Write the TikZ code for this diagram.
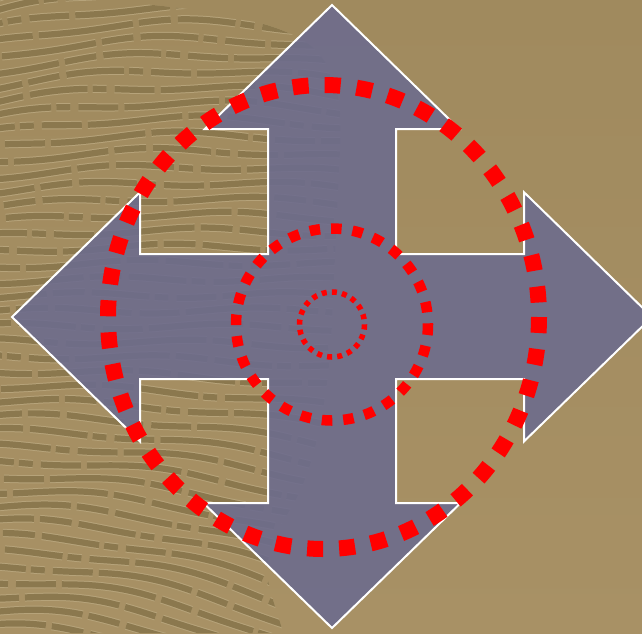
\documentclass[tikz,border=0pt]{standalone}
\usetikzlibrary{shadings}
\definecolor{bgtop}{HTML}{A08A5E}
\definecolor{bgbot}{HTML}{A89165}
\definecolor{ridgedark}{HTML}{8B784E}
\definecolor{ridgelight}{HTML}{B6A37A}
\definecolor{crossfill}{HTML}{6D6C8D}
\definecolor{dotred}{HTML}{FF0000}
\tikzset{
  ridge/.style={draw=ridgelight, line width=1pt, double=ridgedark, double distance=6.2pt,
    dash pattern=on 95pt off 6pt on 32pt off 7pt on 58pt off 5pt on 14pt off 8pt on 40pt off 6pt},
  crossshape/.style={fill=crossfill, fill opacity=0.9, draw=white, line width=2pt, line join=miter},
  bigdots/.style={draw=dotred, line width=16pt, dash pattern=on 16pt off 16pt},
  middots/.style={draw=dotred, line width=10.5pt, dash pattern=on 10.5pt off 11pt},
  smalldots/.style={draw=dotred, line width=5.5pt, dash pattern=on 5pt off 5.2pt}
}
\begin{document}
\begin{tikzpicture}[x=1pt,y=-1pt]
\useasboundingbox (0,0) rectangle (642,633);
% background
\shade[top color=bgtop, bottom color=bgbot] (0,0) rectangle (642,633);
% fingerprint texture
\begin{scope}
  \clip (0,0) -- (88,0) .. controls (170,5) and (270,15) .. (310,45)
        .. controls (340,70) and (342,110) .. (340,150) -- (333,300)
        .. controls (330,400) and (315,470) .. (290,510)
        .. controls (275,535) and (265,555) .. (268,580)
        .. controls (272,600) and (280,620) .. (283,633) -- (0,633) -- cycle;
  \foreach \r [count=\k] in {-34,-19,...,670} {
    \draw[ridge, dash phase=\k*37pt] plot[domain=-10:360, samples=50, variable=\t]
      (\t, {\r + max(0,1-\r/320)*0.0006*\t*(\t-380) + max(0,(\r-320)/310)*0.0009*\t*\t
            + 3*sin(\t*1.7 + \k*53)});
  }
\end{scope}
% four-way arrow shape
\path[crossshape] (332,5) -- (459.2,129) -- (396,129) -- (396,254) -- (524,254) -- (524,192.2)
  -- (652,317) -- (524,441.4) -- (524,379) -- (396,379) -- (396,503) -- (460.6,503)
  -- (332,628) -- (203.4,503) -- (268,503) -- (268,379) -- (140,379) -- (140,441.4)
  -- (12,317) -- (140,192.2) -- (140,254) -- (268,254) -- (268,129) -- (204.8,129) -- cycle;
% dotted circles
\draw[bigdots] (323.5,317) ellipse [x radius=215.5, y radius=232];
\draw[middots] (332,324.5) circle [radius=96];
\draw[smalldots] (332,324.5) circle [radius=32.5];
\end{tikzpicture}
\end{document}
